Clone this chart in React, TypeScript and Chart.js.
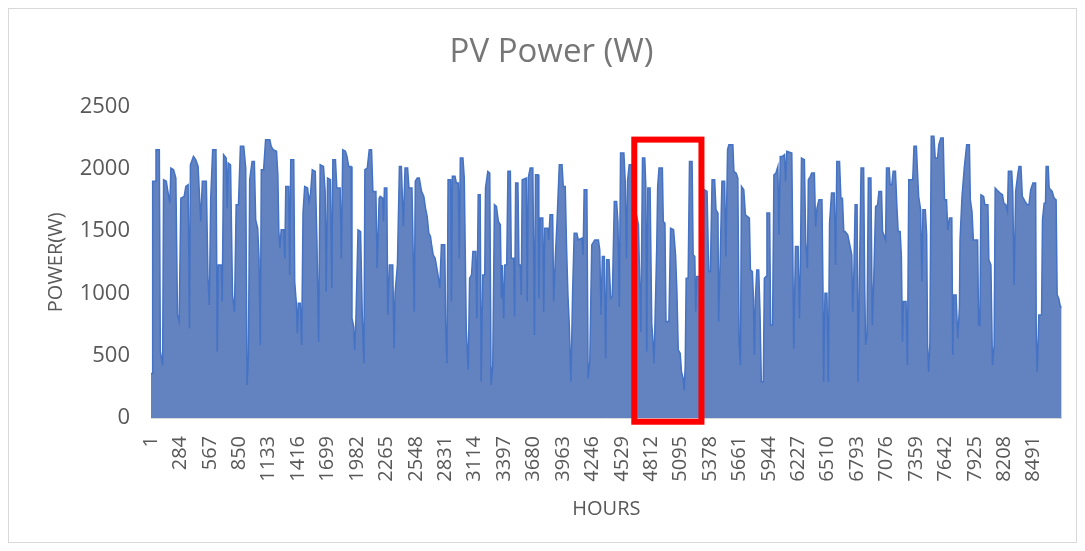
import React, { useEffect, useRef } from "react";
import { Chart, registerables } from "chart.js";

Chart.register(...registerables);

const hours: number[] = [
  1, 11, 17, 40, 49, 81, 91, 113, 122, 148, 161, 183, 192, 218, 240, 256, 272, 288, 320, 336, 358, 371, 380, 409, 431, 454, 479, 495, 533, 549, 562, 575, 594, 626, 638, 648, 677, 686, 699, 724, 734, 743, 766, 785, 804, 820, 842, 861, 893, 912, 925, 938, 950, 973, 995, 1008, 1027, 1040, 1052, 1062, 1084,
  1103, 1144, 1157, 1176, 1208, 1221, 1230, 1240, 1253, 1278, 1288, 1297, 1326, 1335, 1345, 1374, 1383, 1399, 1409, 1418, 1437, 1450, 1463, 1479, 1507, 1520, 1536, 1552, 1581, 1597, 1613, 1628, 1660, 1676, 1686, 1699, 1727, 1740, 1750, 1775, 1788, 1820, 1832, 1845, 1871, 1886, 1902, 1925, 1934, 1950, 1960, 1972, 1992, 2017, 2033, 2049, 2058, 2081, 2100, 2122, 2135, 2164, 2176, 2195,
  2205, 2230, 2237, 2246, 2269, 2278, 2294, 2326, 2339, 2348, 2371, 2390, 2409, 2428, 2444, 2469, 2482, 2511, 2533, 2543, 2562, 2581, 2603, 2625, 2641, 2657, 2673, 2689, 2702, 2715, 2734, 2759, 2778, 2794, 2826, 2836, 2848, 2858, 2883, 2890, 2899, 2925, 2938, 2957, 2966, 2976, 3001, 3014, 3033, 3052, 3065, 3084, 3097, 3125, 3135, 3148, 3167, 3176, 3192, 3211, 3218, 3240, 3259, 3272, 3288, 3304, 3323,
  3342, 3361, 3371, 3380, 3393, 3403, 3422, 3434, 3457, 3466, 3489, 3498, 3508, 3530, 3540, 3552, 3562, 3571, 3610, 3619, 3629, 3648, 3673, 3689, 3699, 3724, 3731, 3743, 3769, 3778, 3788, 3817, 3826, 3839, 3864, 3874, 3890, 3906, 3928, 3954, 3966, 3985, 3998, 4011, 4024, 4040, 4056, 4071, 4097, 4110, 4145, 4157, 4167, 4193, 4205, 4221, 4240, 4269, 4304, 4317, 4329, 4342, 4361, 4374, 4384, 4406, 4422, 4438,
  4457, 4479, 4492, 4505, 4517, 4549, 4562, 4575, 4584, 4600, 4626, 4645, 4670, 4689, 4712, 4728, 4750, 4760, 4769, 4779, 4801, 4817, 4830, 4839, 4852, 4865, 4874, 4887, 4919, 4928, 4944, 4954, 4982, 4998, 5027, 5046, 5059, 5072, 5091, 5103, 5119, 5129, 5139, 5148, 5167, 5180, 5205, 5215, 5231, 5240, 5250, 5285, 5305, 5326, 5349, 5365, 5381, 5397, 5422, 5435, 5454, 5460, 5476, 5492, 5518, 5530, 5546, 5559,
  5575, 5597, 5607, 5629, 5645, 5658, 5670, 5680, 5702, 5718, 5756, 5766, 5785, 5795, 5804, 5814, 5827, 5846, 5858, 5871, 5890, 5900, 5916, 5925, 5951, 5960, 5979, 5992, 6011, 6030, 6040, 6053, 6075, 6094, 6104, 6116, 6164, 6183, 6199, 6225, 6237, 6247, 6257, 6285, 6298, 6314, 6323, 6343, 6355, 6381, 6393, 6406, 6425, 6454, 6464, 6470, 6483, 6502, 6515, 6527, 6546, 6572, 6585, 6597, 6623, 6636, 6651, 6664, 6677,
  6702, 6722, 6741, 6750, 6760, 6773, 6792, 6801, 6814, 6830, 6855, 6865, 6874, 6887, 6900, 6925, 6938, 6951, 6970, 6989, 7002, 7027, 7037, 7066, 7075, 7101, 7110, 7126, 7139, 7161, 7174, 7187, 7206, 7218, 7228, 7238, 7263, 7276, 7289, 7327, 7339, 7362, 7371, 7384, 7403, 7416, 7425, 7448, 7461, 7470, 7480, 7492, 7505, 7531, 7543, 7566, 7578, 7597, 7620, 7633, 7652, 7664, 7680, 7703, 7712, 7722, 7744, 7760, 7776,
  7782, 7801, 7824, 7846, 7872, 7881, 7897, 7910, 7951, 7961, 7973, 7983, 8009, 8021, 8050, 8059, 8079, 8094, 8110, 8120, 8152, 8168, 8190, 8203, 8222, 8238, 8247, 8279, 8289, 8302, 8317, 8337, 8349, 8368, 8381, 8407, 8429, 8445, 8461, 8483, 8509, 8515, 8524, 8540, 8566, 8575, 8591, 8604, 8610, 8630, 8639, 8668, 8687, 8706, 8716, 8731, 8747, 8760,
];

const powerW: number[] = [
  358, 358, 1900, 1900, 2154, 2154, 533, 425, 1913, 1900, 1832, 1725, 2007, 1993, 1926, 827, 774, 1765, 1779, 1859, 1873, 720, 2033, 2100, 2074, 2020, 1578, 1900, 1900, 1122, 908, 1752, 2154, 2154, 533, 1229, 1229, 935, 2114, 2087, 1685, 2047, 2033, 988, 854, 1712, 1712, 2181, 2181, 2007, 265, 506, 1913, 2060, 2060, 1591, 1524, 1283, 586, 1993, 1993,
  2234, 2234, 2181, 2154, 2141, 1953, 1511, 1363, 1511, 1511, 1283, 1859, 1859, 1149, 2074, 2074, 1095, 921, 680, 921, 921, 586, 1645, 1859, 1846, 1739, 1806, 1993, 1980, 1417, 613, 2033, 2020, 1819, 1015, 1926, 1913, 1042, 2074, 2074, 1846, 1846, 1283, 2154, 2141, 2100, 2020, 2020, 801, 734, 546, 801, 1511, 1497, 827, 439, 1993, 2007, 2154, 2154, 1819, 1819, 1203, 1765,
  1779, 1765, 1578, 1846, 1846, 827, 1229, 1229, 559, 1002, 1229, 2020, 2020, 1538, 2007, 2007, 1846, 1846, 854, 1900, 1926, 1926, 1819, 1779, 1685, 1618, 1484, 1457, 1377, 1310, 1283, 1162, 1042, 1390, 1390, 693, 439, 1913, 1913, 935, 1940, 1940, 1886, 1886, 1283, 2087, 2087, 1926, 720, 385, 1122, 1149, 1337, 1337, 801, 1792, 1792, 291, 1149, 1149, 1846, 1980, 1966, 265, 425, 1712, 1698,
  1578, 1551, 961, 1229, 801, 1229, 1229, 1980, 1980, 1283, 1283, 814, 1886, 1886, 1229, 1229, 988, 1913, 1926, 935, 1926, 2007, 2007, 667, 1953, 1953, 961, 1605, 1605, 854, 1524, 1524, 1430, 1631, 1631, 935, 1296, 1578, 2033, 2033, 1859, 1859, 1363, 988, 747, 291, 1015, 1484, 1484, 1430, 1444, 1310, 1832, 1832, 318, 452, 1390, 1430, 1430, 1350, 827, 1296, 1296, 479, 1270, 1270, 961, 975,
  1739, 1739, 1578, 894, 2127, 2127, 1900, 1283, 1900, 2033, 2033, 1658, 1631, 1551, 693, 2087, 2087, 1859, 533, 1846, 1846, 760, 600, 439, 908, 1377, 1859, 2007, 2007, 1578, 1564, 774, 774, 1524, 1511, 1310, 1015, 546, 519, 372, 318, 224, 425, 1122, 1122, 2060, 2060, 1310, 1296, 854, 1136, 1136, 600, 1832, 1819, 1176, 1176, 1913, 1913, 1672, 1645, 774, 1296, 1900, 1900, 1296, 2154, 2194,
  2194, 2194, 1980, 1966, 1926, 586, 425, 1859, 1832, 1631, 1605, 1189, 1176, 961, 506, 961, 1189, 1189, 854, 291, 291, 1122, 1136, 1645, 1645, 747, 747, 1953, 1966, 2020, 1471, 2100, 2100, 2114, 1900, 2141, 2127, 559, 1377, 1377, 801, 1229, 2087, 2074, 1417, 1203, 1913, 1940, 1966, 1966, 1538, 1685, 1752, 1752, 1015, 291, 1002, 1002, 291, 1564, 1806, 1806, 1229, 2060, 2060, 1765, 1765, 1497, 1497,
  1471, 1390, 1310, 854, 1122, 1712, 1712, 291, 1109, 2007, 2007, 1069, 586, 667, 1926, 1926, 747, 1082, 1698, 1712, 1819, 1819, 1497, 1430, 2007, 2007, 1873, 1873, 1980, 1980, 1712, 1497, 1497, 1296, 613, 935, 935, 425, 1913, 1913, 2181, 2181, 2007, 1779, 1672, 1095, 1672, 1672, 1471, 586, 372, 600, 2261, 2261, 2087, 2087, 2194, 2248, 2248, 1752, 1752, 1511, 1605, 1605, 506, 988, 988, 640, 881,
  1430, 1779, 2020, 2194, 2194, 1752, 1658, 1430, 1430, 747, 747, 1792, 1779, 1712, 1712, 1270, 1229, 425, 586, 1846, 1819, 1806, 1792, 1725, 1712, 1658, 1980, 1980, 1819, 1069, 1819, 1953, 2020, 2020, 1779, 1739, 1712, 1712, 1832, 1886, 1886, 667, 372, 827, 827, 1591, 1725, 1725, 2020, 2020, 1846, 1819, 1765, 1752, 988, 961, 894, 894,
];

const xTickLabels: number[] = [
  1, 284, 567, 850, 1133, 1416, 1699, 1982, 2265, 2548, 2831, 3114, 3397, 3680, 3963, 4246, 4529, 4812, 5095, 5378, 5661, 5944, 6227, 6510, 6793, 7076, 7359, 7642, 7925, 8208, 8491,
];
const yTickValues: number[] = [0, 500, 1000, 1500, 2000, 2500];

// Highlighted window (red box) in data units
const highlightHours: number[] = [4649, 5295];
const highlightPower: number[] = [2235, -30];

const highlightPlugin = {
  id: "highlightBox",
  afterDraw(chart: any) {
    const { ctx, scales } = chart;
    const x0 = scales.x.getPixelForValue(highlightHours[0]);
    const x1 = scales.x.getPixelForValue(highlightHours[1]);
    const y0 = scales.y.getPixelForValue(highlightPower[0]);
    const y1 = scales.y.getPixelForValue(highlightPower[1]);
    ctx.save();
    ctx.strokeStyle = "#ff0000";
    ctx.lineWidth = 6;
    ctx.strokeRect(x0, y0, x1 - x0, y1 - y0);
    ctx.restore();
  },
};

export default function App() {
  const canvasRef = useRef<HTMLCanvasElement | null>(null);

  useEffect(() => {
    const canvas = canvasRef.current;
    if (!canvas) return;
    const points = hours.map((h, i) => ({ x: h, y: powerW[i] }));
    const chart = new Chart(canvas, {
      type: "line",
      data: {
        datasets: [
          {
            data: points,
            fill: "origin",
            backgroundColor: "#6282c0",
            borderColor: "#4472c4",
            borderWidth: 1.5,
            pointRadius: 0,
            tension: 0,
          },
        ],
      },
      options: {
        animation: false,
        responsive: false,
        maintainAspectRatio: false,
        layout: { padding: { left: 26, right: 8, top: 0, bottom: 0 } },
        plugins: {
          legend: { display: false },
          tooltip: { enabled: false },
          title: {
            display: true,
            text: "PV Power (W)",
            color: "#767676",
            font: { family: "Open Sans", size: 33, weight: "normal" },
            padding: { top: 24, bottom: 34 },
          },
        },
        scales: {
          x: {
            type: "linear",
            min: 1,
            max: 8760,
            afterBuildTicks: (s: any) => {
              s.ticks = xTickLabels.map((v) => ({ value: v }));
            },
            ticks: {
              autoSkip: false,
              minRotation: 90,
              maxRotation: 90,
              padding: 18,
              color: "#595959",
              font: { family: "Open Sans", size: 20 },
              callback: (v: any) => String(v),
            },
            grid: { display: false, drawTicks: false },
            border: { display: true, color: "#d9d9d9", width: 1 },
            title: {
              display: true,
              text: "HOURS",
              color: "#595959",
              font: { family: "Open Sans", size: 20 },
              padding: { top: 0, bottom: 21 },
            },
            afterFit: (s: any) => {
              s.height = 124;
            },
          },
          y: {
            min: 0,
            max: 2500,
            afterBuildTicks: (s: any) => {
              s.ticks = yTickValues.map((v) => ({ value: v }));
            },
            ticks: {
              padding: 21,
              color: "#595959",
              font: { family: "Open Sans", size: 22 },
              callback: (v: any) => String(v),
            },
            grid: { display: false, drawTicks: false },
            border: { display: false },
            title: {
              display: true,
              text: "POWER(W)",
              color: "#595959",
              font: { family: "Open Sans", size: 20 },
              padding: { top: 9, bottom: 0 },
            },
            afterFit: (s: any) => {
              s.width = 116;
            },
          },
        },
      },
      plugins: [highlightPlugin],
    } as any);
    return () => chart.destroy();
  }, []);

  return (
    <div
      style={{
        width: 1069,
        height: 535,
        border: "1px solid #d9d9d9",
        boxSizing: "border-box",
        background: "#ffffff",
      }}
    >
      <canvas ref={canvasRef} width={1067} height={533} style={{ display: "block" }} />
    </div>
  );
}
